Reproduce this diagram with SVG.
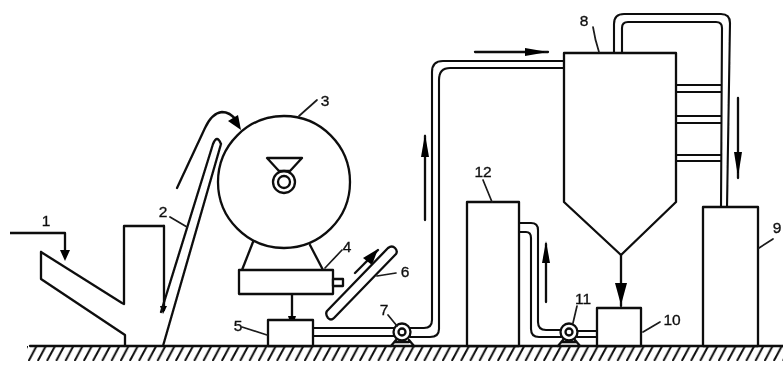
<svg xmlns="http://www.w3.org/2000/svg" width="783" height="365" viewBox="0 0 783 365">
<style>
.s{fill:none;stroke:#0d0d0d;stroke-width:2.3;stroke-linejoin:round;stroke-linecap:round}
.b{fill:#fff;stroke:#0d0d0d;stroke-width:2.3;stroke-linejoin:round}
.p{fill:none;stroke:#111;stroke-width:2.1;stroke-linecap:round}
.l{fill:none;stroke:#1a1a1a;stroke-width:1.7;stroke-linecap:round}
.h{fill:#050505;stroke:none}
text{font-family:"Liberation Sans",Arial,sans-serif;font-size:15.5px;fill:#111;stroke:#111;stroke-width:.35;text-anchor:middle}
</style>
<defs>
<pattern id="hatch" patternUnits="userSpaceOnUse" x="28" y="346" width="9.2" height="15">
<path d="M8.6 0L0.6 15" stroke="#111" stroke-width="2" fill="none"/>
</pattern>
<filter id="soft" x="0" y="0" width="100%" height="100%" filterUnits="objectBoundingBox"><feGaussianBlur stdDeviation="0.45"/></filter>
</defs>
<rect width="783" height="365" fill="#fff"/>
<g filter="url(#soft)">
<g id="ground">
<rect x="27" y="346" width="756" height="15" fill="url(#hatch)"/>
<path class="s" d="M30 346H783"/>
</g>
<g id="connectors">
<path class="p" d="M313 328H394M410 328H424Q432 328 432 320V72Q432 61 443 61H564"/>
<path class="p" d="M313 336H394M410 337H430Q439 337 439 329V80Q439 68 450 68H564"/>
<path class="p" d="M519 223H531Q538 223 538 230V322Q538 330 546 330H561"/>
<path class="p" d="M519 232H526Q531 232 531 238V329Q531 337 539 337H561"/>
<path class="p" d="M577 331H597M577 337H597"/>
<path class="p" d="M614 52V24Q614 14 624 14H721Q730 14 730 23L727 207"/>
<path class="p" d="M622 52V28Q622 22 628 22H716Q722 22 722 28L721 207"/>
<path class="p" d="M676 85H721M676 92H721M676 116H721M676 123H721M676 155H721M676 161H721"/>
<path class="s" d="M10 233H65V252"/><path class="h" d="M60 250H70L65 261Z"/>
<path class="s" d="M177 188L205 128Q212 113 222 112Q230 112 236 120"/><path class="h" d="M228 121L238 115L241 130Z"/>
<path class="s" d="M164 226V310"/><path class="h" d="M160 306H167L163 314Z"/>
<path class="s" d="M292 294V320"/><path class="h" d="M288 316H296L292 328Z"/>
<path class="s" d="M355 273L378 250"/><path class="h" d="M363 258L378 249L372 265Z"/>
<path class="s" d="M425 220V136"/><path class="h" d="M421 157L425 134L429 157Z"/>
<path class="s" d="M475 52H548"/><path class="h" d="M525 48L548 52L525 56Z"/>
<path class="s" d="M546 302V244"/><path class="h" d="M542 263L546 241L550 263Z"/>
<path class="s" d="M738 98V178"/><path class="h" d="M734 152H742L738 177Z"/>
<path class="s" d="M621 255V306"/><path class="h" d="M615 283H627L621 305Z"/>
</g>
<g id="hopper-1">
<path class="s" d="M41 252V279L125 335V346M41 252L122 303L124 304V226H164"/>
<text x="46" y="226">1</text>
</g>
<g id="elevator-2">
<path class="s" d="M221 144L163 346M161 312L213 144Q217 134 221 144"/>
<path class="l" d="M170 217L187 227"/>
<text x="163" y="217">2</text>
</g>
<g id="drum-3">
<path class="s" d="M253 242L242 270M310 245L323 270"/>
<circle class="b" cx="284" cy="182" r="66"/>
<path class="s" d="M267 158H302L290 171H279Z"/>
<circle class="s" cx="284" cy="182" r="11"/>
<circle class="s" cx="284" cy="182" r="6"/>
<path class="l" d="M299 116L317 100"/>
<text x="325" y="106">3</text>
</g>
<g id="unit-4">
<rect class="b" x="239" y="270" width="94" height="24"/>
<rect class="b" x="333" y="279" width="10" height="7"/>
<path class="l" d="M325 268L342 250"/>
<text x="347" y="252">4</text>
</g>
<g id="box-5">
<rect class="b" x="268" y="320" width="45" height="26"/>
<path class="l" d="M242 327L267 335"/>
<text x="238" y="331">5</text>
</g>
<g id="conveyor-6">
<path class="s" d="M327 311L388 248Q392 245 395 248Q398 251 396 254L334 318Q331 321 328 318Q325 314 327 311Z"/>
<path class="l" d="M377 276L396 273"/>
<text x="405" y="277">6</text>
</g>
<g id="pump-7">
<path class="s" d="M396 340L391 346M409 340L414 346M395 342H409"/>
<circle class="b" cx="402" cy="332" r="8.5"/>
<circle class="s" cx="402" cy="332" r="3.5"/>
<path class="l" d="M388 315L397 326"/>
<text x="384" y="315">7</text>
</g>
<g id="tower-8">
<path class="b" d="M564 53H676V202L621 255L564 202Z"/>
<path class="l" d="M593 27Q595 40 599 52"/>
<text x="584" y="26">8</text>
</g>
<g id="tank-9">
<rect class="b" x="703" y="207" width="55" height="139"/>
<path class="l" d="M759 248L773 239"/>
<text x="777" y="233">9</text>
</g>
<g id="box-10">
<rect class="b" x="597" y="308" width="44" height="38"/>
<path class="l" d="M643 332L660 322"/>
<text x="672" y="325">10</text>
</g>
<g id="pump-11">
<path class="s" d="M563 340L558 346M575 340L580 346M562 342H576"/>
<circle class="b" cx="569" cy="332" r="8.5"/>
<circle class="s" cx="569" cy="332" r="3.5"/>
<path class="l" d="M573 323L577 306"/>
<text x="583" y="304">11</text>
</g>
<g id="tank-12">
<rect class="b" x="467" y="202" width="52" height="144"/>
<path class="l" d="M483 180L492 202"/>
<text x="483" y="177">12</text>
</g>
</g>
</svg>
